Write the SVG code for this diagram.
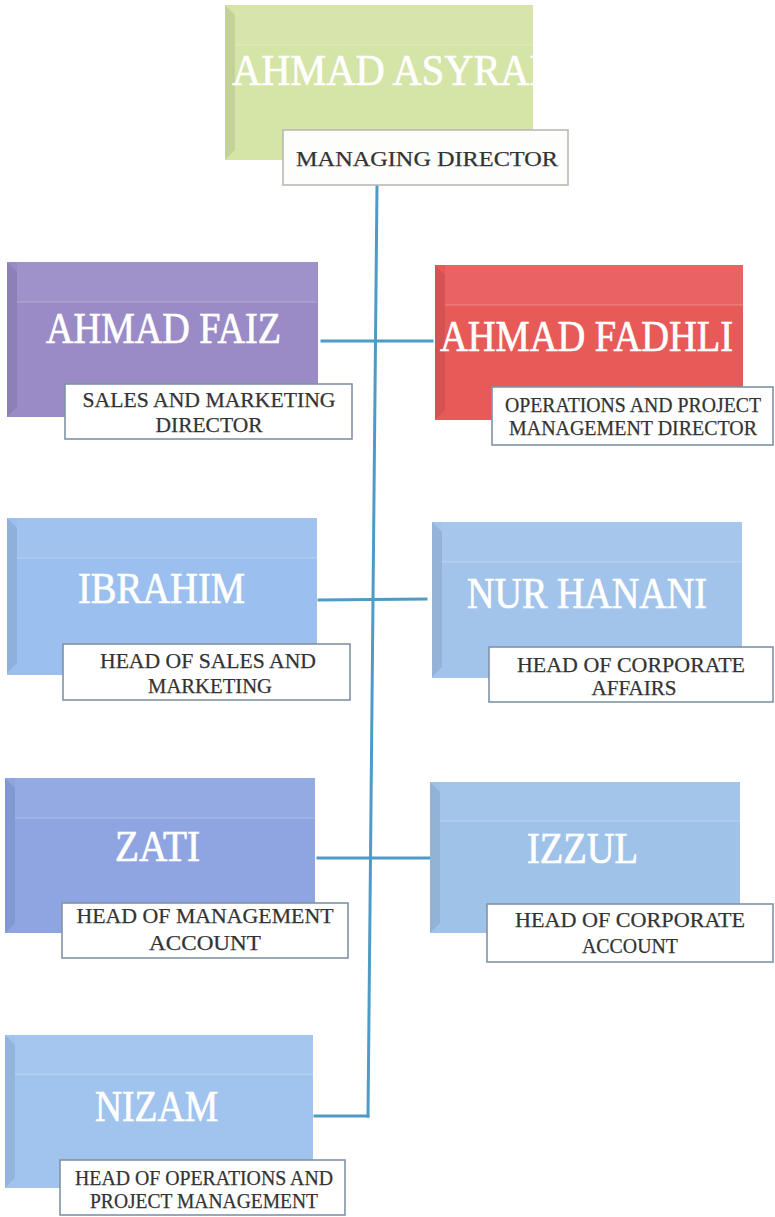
<svg xmlns="http://www.w3.org/2000/svg" width="775" height="1217" viewBox="0 0 775 1217">
  <style>
    .name { font-family: "Liberation Serif", "Times New Roman", serif; font-size: 44px; fill: #ffffff; stroke: #ffffff; stroke-width: 0.7; }
    .role { font-family: "Liberation Serif", "Times New Roman", serif; font-size: 22px; fill: #333333; stroke: #333333; stroke-width: 0.25; text-anchor: middle; }
    .tag { fill: #ffffff; stroke: #7f93a8; stroke-width: 1.6; }
    .tag-top { fill: #fdfdfb; stroke: #b9b9b3; stroke-width: 1.6; }
    .link { fill: none; stroke: #4d9bc6; stroke-width: 3; stroke-linecap: square; }
    .shade { fill: #000000; opacity: 0.08; }
    .shine { fill: #ffffff; opacity: 0.06; }
    .gloss { stroke: #ffffff; stroke-width: 1.5; opacity: 0.18; }
  </style>
  <defs>
    <clipPath id="clip-asyraf">
      <rect x="225" y="5" width="308" height="155"/>
    </clipPath>
    <!-- soft bevel overlay for a 310x155 card, drawn at the origin -->
    <g id="bevel">
      <polygon class="shade" points="0,0 10,10 10,145 0,155"/>
      <rect class="shine" x="10" y="0" width="300" height="40"/>
      <line class="gloss" x1="10" y1="40" x2="310" y2="40"/>
    </g>
  </defs>

  <!-- connectors -->
  <g id="connectors">
    <line class="link" x1="377" y1="186" x2="368" y2="1116"/>
    <line class="link" x1="322" y1="341" x2="432" y2="341"/>
    <line class="link" x1="319" y1="600" x2="426" y2="599"/>
    <line class="link" x1="318" y1="858" x2="430" y2="858"/>
    <polyline class="link" points="315,1116 368,1116"/>
  </g>

  <!-- managing director -->
  <g id="node-asyraf">
    <rect x="225" y="5" width="308" height="155" fill="#d5e4a7"/>
    <use href="#bevel" transform="translate(225,5) scale(0.994,1)"/>
    <text class="name" x="232" y="85" textLength="320" lengthAdjust="spacingAndGlyphs" clip-path="url(#clip-asyraf)">AHMAD ASYRAF</text>
    <rect class="tag-top" x="283" y="130" width="285" height="55"/>
    <text class="role" x="427" y="166" textLength="262" lengthAdjust="spacingAndGlyphs">MANAGING DIRECTOR</text>
  </g>

  <g id="node-faiz">
    <rect x="7" y="262" width="311" height="155" fill="#9a8bc6"/>
    <use href="#bevel" transform="translate(7,262)"/>
    <text class="name" x="46" y="343" textLength="235" lengthAdjust="spacingAndGlyphs">AHMAD FAIZ</text>
    <rect class="tag" x="65" y="384" width="287" height="55"/>
    <text class="role" x="209" y="407" textLength="253" lengthAdjust="spacingAndGlyphs">SALES AND MARKETING</text>
    <text class="role" x="209" y="432" textLength="107" lengthAdjust="spacingAndGlyphs">DIRECTOR</text>
  </g>

  <g id="node-fadhli">
    <rect x="435" y="265" width="308" height="155" fill="#e75a58"/>
    <use href="#bevel" transform="translate(435,265) scale(0.994,1)"/>
    <text class="name" x="440" y="351" textLength="293" lengthAdjust="spacingAndGlyphs">AHMAD FADHLI</text>
    <rect class="tag" x="492" y="387" width="281" height="58"/>
    <text class="role" x="633" y="412" font-size="19" textLength="256" lengthAdjust="spacingAndGlyphs">OPERATIONS AND PROJECT</text>
    <text class="role" x="633" y="435" font-size="19" textLength="248" lengthAdjust="spacingAndGlyphs">MANAGEMENT DIRECTOR</text>
  </g>

  <g id="node-ibrahim">
    <rect x="7" y="518" width="310" height="157" fill="#9bbfee"/>
    <use href="#bevel" transform="translate(7,518)"/>
    <text class="name" x="78" y="603" textLength="167" lengthAdjust="spacingAndGlyphs">IBRAHIM</text>
    <rect class="tag" x="63" y="644" width="287" height="56"/>
    <text class="role" x="208" y="668" textLength="216" lengthAdjust="spacingAndGlyphs">HEAD OF SALES AND</text>
    <text class="role" x="210" y="693" textLength="124" lengthAdjust="spacingAndGlyphs">MARKETING</text>
  </g>

  <g id="node-hanani">
    <rect x="432" y="522" width="310" height="156" fill="#a2c3ea"/>
    <use href="#bevel" transform="translate(432,522)"/>
    <text class="name" x="467" y="608" textLength="240" lengthAdjust="spacingAndGlyphs">NUR HANANI</text>
    <rect class="tag" x="489" y="647" width="284" height="55"/>
    <text class="role" x="631" y="672" textLength="228" lengthAdjust="spacingAndGlyphs">HEAD OF CORPORATE</text>
    <text class="role" x="634" y="695" textLength="85" lengthAdjust="spacingAndGlyphs">AFFAIRS</text>
  </g>

  <g id="node-zati">
    <rect x="5" y="778" width="310" height="155" fill="#8ea5e2"/>
    <use href="#bevel" transform="translate(5,778)"/>
    <text class="name" x="115" y="861" textLength="85" lengthAdjust="spacingAndGlyphs">ZATI</text>
    <rect class="tag" x="62" y="903" width="286" height="55"/>
    <text class="role" x="205" y="923" textLength="257" lengthAdjust="spacingAndGlyphs">HEAD OF MANAGEMENT</text>
    <text class="role" x="205" y="950" textLength="112" lengthAdjust="spacingAndGlyphs">ACCOUNT</text>
  </g>

  <g id="node-izzul">
    <rect x="430" y="782" width="310" height="151" fill="#9fc2e9"/>
    <use href="#bevel" transform="translate(430,782) scale(1,0.974)"/>
    <text class="name" x="527" y="863" textLength="111" lengthAdjust="spacingAndGlyphs">IZZUL</text>
    <rect class="tag" x="487" y="904" width="286" height="58"/>
    <text class="role" x="630" y="927" textLength="230" lengthAdjust="spacingAndGlyphs">HEAD OF CORPORATE</text>
    <text class="role" x="630" y="953" textLength="96" lengthAdjust="spacingAndGlyphs">ACCOUNT</text>
  </g>

  <g id="node-nizam">
    <rect x="5" y="1035" width="308" height="153" fill="#a0c4ee"/>
    <use href="#bevel" transform="translate(5,1035) scale(0.994,0.987)"/>
    <text class="name" x="95" y="1121" textLength="123" lengthAdjust="spacingAndGlyphs">NIZAM</text>
    <rect class="tag" x="60" y="1160" width="285" height="55"/>
    <text class="role" x="204" y="1185" font-size="18" textLength="258" lengthAdjust="spacingAndGlyphs">HEAD OF OPERATIONS AND</text>
    <text class="role" x="204" y="1208" font-size="18" textLength="228" lengthAdjust="spacingAndGlyphs">PROJECT MANAGEMENT</text>
  </g>
</svg>
